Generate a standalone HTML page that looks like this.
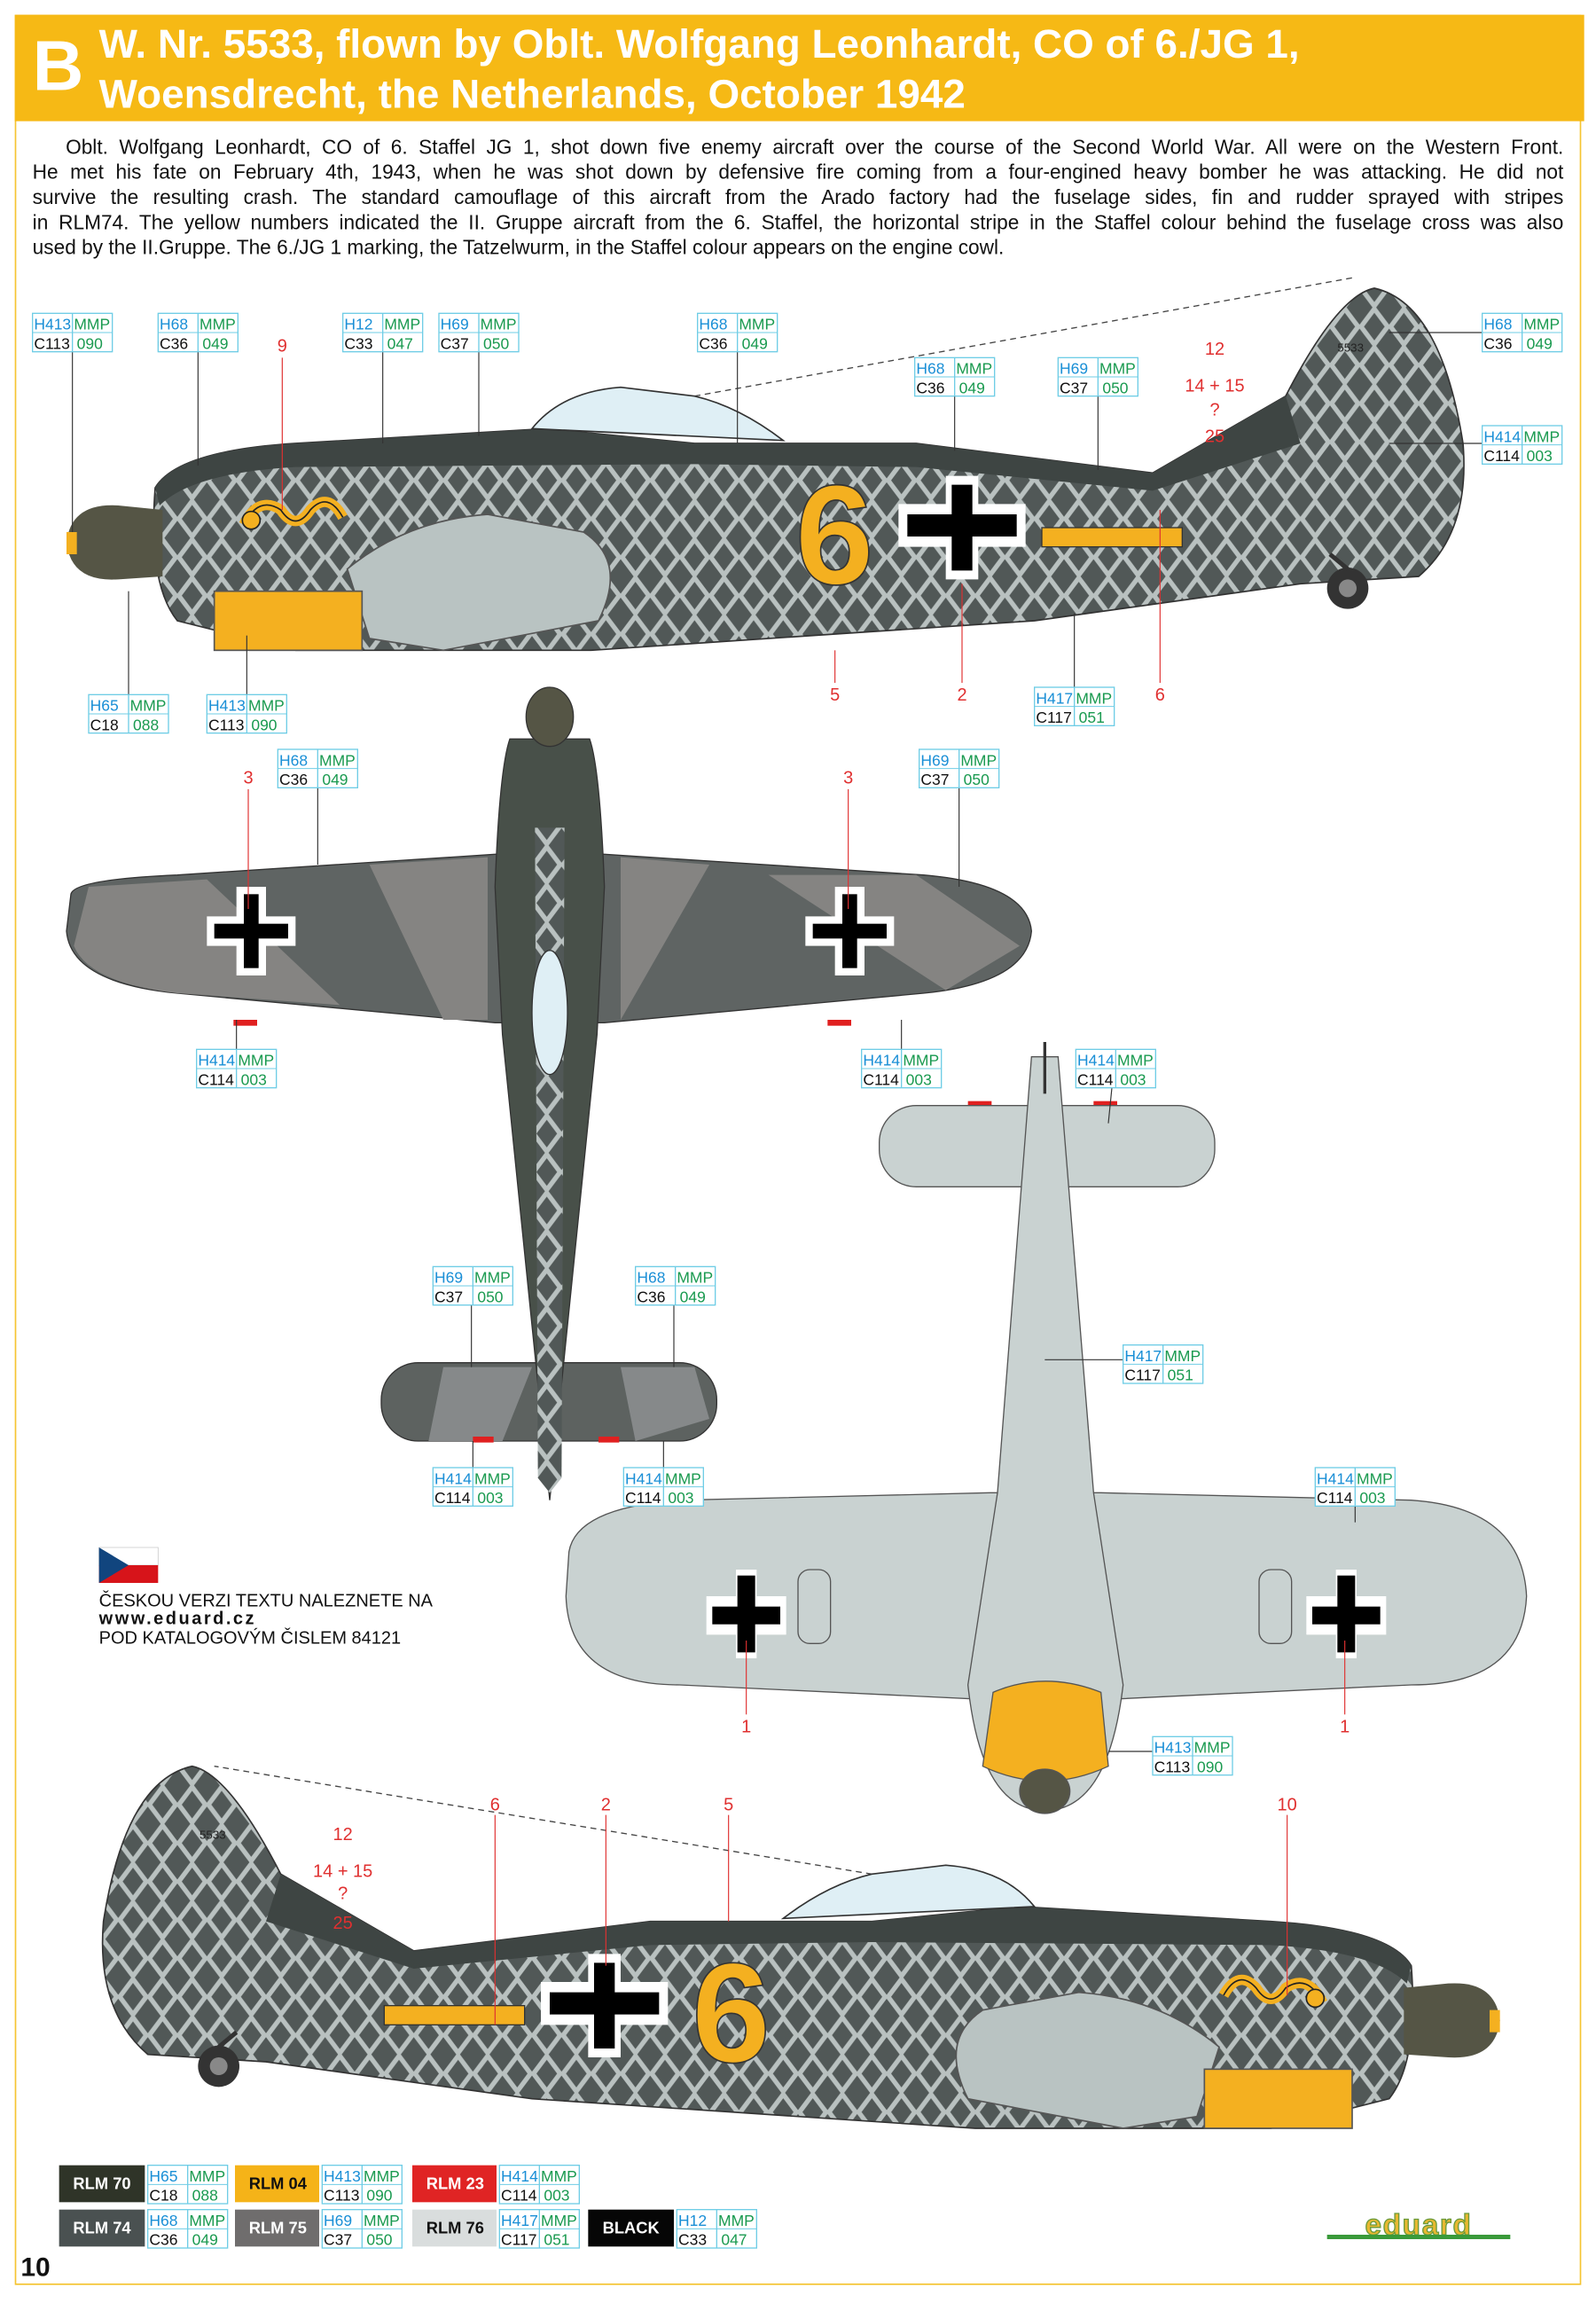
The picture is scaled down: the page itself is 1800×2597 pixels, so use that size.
<!DOCTYPE html>
<html><head><meta charset="utf-8"><style>
html,body{margin:0;padding:0;background:#fff}
#w{width:1080px;height:1558px;position:relative;transform:scale(1.66667);transform-origin:0 0;font-family:"Liberation Sans",sans-serif;overflow:hidden}
#frame{position:absolute;left:10px;top:10px;width:1060px;height:1536px;border:1.5px solid #f5c431;box-sizing:border-box}
#hd{position:absolute;left:10px;top:10px;width:1062px;height:72px;background:#f6b915}
#B{position:absolute;left:22px;top:16px;font-size:48px;font-weight:bold;color:#fff;line-height:60px}
#tt{position:absolute;left:67px;top:13px;font-size:27.5px;font-weight:bold;color:#fff;line-height:34px;white-space:nowrap}
#txt{position:absolute;left:22px;top:91px;width:1036px;font-size:13.6px;line-height:17px;color:#111}
#txt div{white-space:nowrap;text-align:justify;text-align-last:justify}
svg{position:absolute;left:0;top:0}
</style></head><body><div id="w">
<div id="frame"></div>
<div id="hd"></div>
<div id="B">B</div>
<div id="tt">W. Nr. 5533, flown by Oblt. Wolfgang Leonhardt, CO of 6./JG 1,<br>Woensdrecht, the Netherlands, October 1942</div>
<div id="txt">
<div>&nbsp;&nbsp;&nbsp;Oblt. Wolfgang Leonhardt, CO of 6. Staffel JG 1, shot down five enemy aircraft over the course of the Second World War. All were on the Western Front.</div>
<div>He met his fate on February 4th, 1943, when he was shot down by defensive fire coming from a four-engined heavy bomber he was attacking. He did not</div>
<div>survive the resulting crash. The standard camouflage of this aircraft from the Arado factory had the fuselage sides, fin and rudder sprayed with stripes</div>
<div>in RLM74. The yellow numbers indicated the II. Gruppe aircraft from the 6. Staffel, the horizontal stripe in the Staffel colour behind the fuselage cross was also</div>
<div style="text-align-last:left">used by the II.Gruppe. The 6./JG 1 marking, the Tatzelwurm, in the Staffel colour appears on the engine cowl.</div>
</div>
<svg width="1080" height="1558" viewBox="0 0 1080 1558" font-family="Liberation Sans, sans-serif">
<defs>
<pattern id="dia" width="20" height="26" patternUnits="userSpaceOnUse">
<rect width="20" height="26" fill="#515857"/>
<path d="M10,1 L19,13 L10,25 L1,13 Z" fill="none" stroke="#b9c1c0" stroke-width="3.2"/>
</pattern>
<g id="side">
<path d="M105,330 Q120,305 200,300 L370,290 L470,300 L620,300 L780,320 L870,268 Q905,200 930,195 Q975,205 990,300 Q995,360 960,390 L880,395 L700,420 L400,440 L200,440 L120,420 Q100,395 105,330 Z" fill="url(#dia)" stroke="#333" stroke-width="1"/>
<path d="M105,330 Q120,305 200,300 L370,290 L470,300 L620,300 L780,320 L870,268 L880,300 L780,332 L620,316 L470,314 L200,316 Q130,320 108,342 Z" fill="#3e4543"/>
<path d="M360,290 Q380,265 420,262 L470,268 Q500,275 530,298 Z" fill="#dfeff5" stroke="#333"/>
<path d="M235,385 Q275,352 330,348 L395,360 Q425,380 405,420 L300,440 L250,432 Z" fill="#b9c3c2" stroke="#555"/>
<rect x="145" y="400" width="100" height="40" fill="#f4b020" stroke="#555"/>
<path d="M45,367 Q48,340 80,342 L110,345 L110,390 L80,392 Q48,394 45,367 Z" fill="#555545"/>
<path d="M45,360 L52,360 L52,375 L45,375 Z" fill="#f4b020"/>
<circle cx="912" cy="398" r="14" fill="#333"/><circle cx="912" cy="398" r="6" fill="#888"/>
<line x1="912" y1="385" x2="900" y2="375" stroke="#333" stroke-width="3"/>
<path d="M608,341 L640,341 L640,322 L662,322 L662,341 L694,341 L694,370 L662,370 L662,392 L640,392 L640,370 L608,370 Z" fill="#fff"/>
<path d="M614,348 L644,348 L644,328 L658,328 L658,348 L688,348 L688,363 L658,363 L658,386 L644,386 L644,363 L614,363 Z" fill="#000"/>
<rect x="705" y="357" width="95" height="13" fill="#f4b020" stroke="#333" stroke-width=".8"/>
<path d="M165,355 Q175,335 190,345 Q200,360 210,345 Q222,332 232,350" fill="none" stroke="#f4b020" stroke-width="7"/>
<path d="M165,355 Q175,335 190,345 Q200,360 210,345 Q222,332 232,350" fill="none" stroke="#222" stroke-width="1"/>
<circle cx="170" cy="352" r="6" fill="#f4b020" stroke="#222"/>
</g>
<g id="lab"><rect x="0" y="0" width="54" height="26" fill="#fff" stroke="#6fcde6" stroke-width=".8"/><line x1="27" y1="0" x2="27" y2="26" stroke="#6fcde6" stroke-width=".8"/><line x1="0" y1="13" x2="54" y2="13" stroke="#6fcde6" stroke-width=".6"/></g>
</defs>

<line x1="470" y1="268" x2="915" y2="188" stroke="#444" stroke-dasharray="4,3" stroke-width=".8"/>
<use href="#side"/>
<text x="538" y="395" font-size="96" font-weight="bold" fill="#f4b020" stroke="#333" stroke-width="1">6</text>
<text x="905" y="238" font-size="8" fill="#222">5533</text>

<line x1="590" y1="1268" x2="145" y2="1195" stroke="#444" stroke-dasharray="4,3" stroke-width=".8"/>
<use href="#side" transform="translate(1060,1000) scale(-1,1)"/>
<text x="468" y="1395" font-size="96" font-weight="bold" fill="#f4b020" stroke="#333" stroke-width="1">6</text>
<text x="135" y="1244" font-size="8" fill="#222">5533</text>

<!-- top view -->
<g stroke="#333" stroke-width=".8">
<path d="M48,605 Q50,595 120,592 L335,578 L409,578 L625,592 Q695,598 698,630 Q695,665 625,672 L409,692 L335,692 L120,672 Q48,665 45,630 Z" fill="#5f6463"/>
<path d="M60,600 L140,595 L230,680 L120,672 Q60,665 50,640 Z M250,585 L330,580 L330,690 L300,690 Z M420,580 L480,585 L420,690 Z M520,592 L620,592 L690,640 L640,670 Z" fill="#858482" stroke="none"/>
<rect x="258" y="922" width="227" height="53" rx="25" fill="#5d6260"/>
<path d="M300,925 L360,925 L340,975 L290,975 Z M420,925 L470,925 L480,960 L430,975 Z" fill="#86898a" stroke="none"/>
<path d="M345,500 Q338,520 335,600 L340,700 L372,1015 L404,700 L409,600 Q406,520 399,500 Z" fill="#485049"/>
<path d="M362,560 L382,560 L380,1000 L372,1010 L364,1000 Z" fill="url(#dia)" stroke="none"/>
<ellipse cx="372" cy="485" rx="16" ry="20" fill="#555545"/>
<ellipse cx="372" cy="685" rx="12" ry="42" fill="#dfeff5"/>
</g>
<g fill="#fff"><path d="M140,620 L160,620 L160,600 L180,600 L180,620 L200,620 L200,640 L180,640 L180,660 L160,660 L160,640 L140,640 Z"/><path d="M545,620 L565,620 L565,600 L585,600 L585,620 L605,620 L605,640 L585,640 L585,660 L565,660 L565,640 L545,640 Z"/></g>
<g fill="#000"><rect x="145" y="625" width="50" height="10"/><rect x="165" y="605" width="10" height="50"/><rect x="550" y="625" width="50" height="10"/><rect x="570" y="605" width="10" height="50"/></g>
<g fill="#e02020"><rect x="158" y="690" width="16" height="4"/><rect x="560" y="690" width="16" height="4"/><rect x="320" y="972" width="14" height="4"/><rect x="405" y="972" width="14" height="4"/><rect x="655" y="745" width="16" height="4"/><rect x="740" y="745" width="16" height="4"/><rect x="480" y="1028" width="16" height="4"/><rect x="905" y="1028" width="16" height="4"/></g>

<!-- bottom view -->
<g stroke="#555" stroke-width=".8" fill="#c9d2d1">
<rect x="595" y="748" width="227" height="55" rx="25"/>
<path d="M385,1050 Q390,1020 460,1015 L670,1010 L745,1010 L955,1015 Q1030,1020 1033,1080 Q1030,1140 955,1140 L745,1150 L670,1150 L460,1140 Q385,1140 383,1080 Z"/>
<path d="M698,715 L716,715 L740,1010 L760,1140 Q750,1225 707,1225 Q664,1225 655,1140 L675,1010 Z"/>
<path d="M672,1145 Q707,1130 745,1145 L750,1195 Q707,1215 665,1195 Z" fill="#f4b020"/>
<ellipse cx="707" cy="1212" rx="17" ry="15" fill="#555545"/>
<rect x="540" y="1062" width="22" height="50" rx="8"/><rect x="852" y="1062" width="22" height="50" rx="8"/>
</g>
<line x1="707" y1="705" x2="707" y2="740" stroke="#333" stroke-width="2"/>
<g fill="#fff"><path d="M478,1080 L498,1080 L498,1062 L512,1062 L512,1080 L532,1080 L532,1106 L512,1106 L512,1122 L498,1122 L498,1106 L478,1106 Z"/><path d="M884,1080 L904,1080 L904,1062 L918,1062 L918,1080 L938,1080 L938,1106 L918,1106 L918,1122 L904,1122 L904,1106 L884,1106 Z"/></g>
<g fill="#000"><rect x="482" y="1087" width="46" height="12"/><rect x="499" y="1066" width="12" height="52"/><rect x="888" y="1087" width="46" height="12"/><rect x="905" y="1066" width="12" height="52"/></g>

<g stroke="#333" stroke-width=".7">
<line x1="49" y1="238" x2="49" y2="360"/><line x1="134" y1="238" x2="134" y2="315"/><line x1="259" y1="238" x2="259" y2="300"/><line x1="324" y1="238" x2="324" y2="295"/><line x1="499" y1="238" x2="499" y2="300"/><line x1="646" y1="268" x2="646" y2="305"/><line x1="743" y1="268" x2="743" y2="318"/><line x1="940" y1="225" x2="1003" y2="225"/><line x1="940" y1="300" x2="1003" y2="300"/>
<line x1="87" y1="470" x2="87" y2="400"/><line x1="167" y1="470" x2="167" y2="430"/><line x1="727" y1="465" x2="727" y2="415"/>
<line x1="215" y1="533" x2="215" y2="585"/><line x1="649" y1="533" x2="649" y2="600"/><line x1="160" y1="710" x2="160" y2="690"/><line x1="610" y1="710" x2="610" y2="690"/><line x1="755" y1="710" x2="750" y2="760"/>
<line x1="319" y1="883" x2="319" y2="925"/><line x1="456" y1="883" x2="456" y2="925"/><line x1="707" y1="920" x2="760" y2="920"/><line x1="320" y1="993" x2="320" y2="975"/><line x1="449" y1="993" x2="449" y2="975"/><line x1="917" y1="993" x2="917" y2="1030"/><line x1="750" y1="1185" x2="780" y2="1185"/>
</g>
<g stroke="#e03030" stroke-width=".7">
<line x1="191" y1="242" x2="191" y2="345"/><line x1="651" y1="462" x2="651" y2="395"/><line x1="785" y1="462" x2="785" y2="345"/><line x1="565" y1="462" x2="565" y2="440"/>
<line x1="168" y1="534" x2="168" y2="615"/><line x1="574" y1="534" x2="574" y2="615"/><line x1="505" y1="1160" x2="505" y2="1110"/><line x1="910" y1="1160" x2="910" y2="1110"/>
<line x1="335" y1="1228" x2="335" y2="1370"/><line x1="410" y1="1228" x2="410" y2="1330"/><line x1="493" y1="1228" x2="493" y2="1300"/><line x1="871" y1="1228" x2="871" y2="1350"/>
</g>
<g fill="#e03030" font-size="12" text-anchor="middle">
<text x="191" y="238">9</text><text x="565" y="474">5</text><text x="651" y="474">2</text><text x="785" y="474">6</text>
<text x="822" y="240">12</text><text x="822" y="265">14 + 15</text><text x="822" y="281">?</text><text x="822" y="299">25</text>
<text x="168" y="530">3</text><text x="574" y="530">3</text><text x="505" y="1172">1</text><text x="910" y="1172">1</text>
<text x="335" y="1225">6</text><text x="410" y="1225">2</text><text x="493" y="1225">5</text><text x="871" y="1225">10</text>
<text x="232" y="1245">12</text><text x="232" y="1270">14 + 15</text><text x="232" y="1285">?</text><text x="232" y="1305">25</text>
</g>

<g font-size="10.5">
<g transform="translate(22,212)"><use href="#lab"/><text x="1" y="11" fill="#1a8fd6">H413</text><text x="28" y="11" fill="#1a9a50">MMP</text><text x="1" y="24" fill="#111">C113</text><text x="30" y="24" fill="#1a9a50">090</text></g>
<g transform="translate(107,212)"><use href="#lab"/><text x="1" y="11" fill="#1a8fd6">H68</text><text x="28" y="11" fill="#1a9a50">MMP</text><text x="1" y="24" fill="#111">C36</text><text x="30" y="24" fill="#1a9a50">049</text></g>
<g transform="translate(232,212)"><use href="#lab"/><text x="1" y="11" fill="#1a8fd6">H12</text><text x="28" y="11" fill="#1a9a50">MMP</text><text x="1" y="24" fill="#111">C33</text><text x="30" y="24" fill="#1a9a50">047</text></g>
<g transform="translate(297,212)"><use href="#lab"/><text x="1" y="11" fill="#1a8fd6">H69</text><text x="28" y="11" fill="#1a9a50">MMP</text><text x="1" y="24" fill="#111">C37</text><text x="30" y="24" fill="#1a9a50">050</text></g>
<g transform="translate(472,212)"><use href="#lab"/><text x="1" y="11" fill="#1a8fd6">H68</text><text x="28" y="11" fill="#1a9a50">MMP</text><text x="1" y="24" fill="#111">C36</text><text x="30" y="24" fill="#1a9a50">049</text></g>
<g transform="translate(619,242)"><use href="#lab"/><text x="1" y="11" fill="#1a8fd6">H68</text><text x="28" y="11" fill="#1a9a50">MMP</text><text x="1" y="24" fill="#111">C36</text><text x="30" y="24" fill="#1a9a50">049</text></g>
<g transform="translate(716,242)"><use href="#lab"/><text x="1" y="11" fill="#1a8fd6">H69</text><text x="28" y="11" fill="#1a9a50">MMP</text><text x="1" y="24" fill="#111">C37</text><text x="30" y="24" fill="#1a9a50">050</text></g>
<g transform="translate(1003,212)"><use href="#lab"/><text x="1" y="11" fill="#1a8fd6">H68</text><text x="28" y="11" fill="#1a9a50">MMP</text><text x="1" y="24" fill="#111">C36</text><text x="30" y="24" fill="#1a9a50">049</text></g>
<g transform="translate(1003,288)"><use href="#lab"/><text x="1" y="11" fill="#1a8fd6">H414</text><text x="28" y="11" fill="#1a9a50">MMP</text><text x="1" y="24" fill="#111">C114</text><text x="30" y="24" fill="#1a9a50">003</text></g>
<g transform="translate(60,470)"><use href="#lab"/><text x="1" y="11" fill="#1a8fd6">H65</text><text x="28" y="11" fill="#1a9a50">MMP</text><text x="1" y="24" fill="#111">C18</text><text x="30" y="24" fill="#1a9a50">088</text></g>
<g transform="translate(140,470)"><use href="#lab"/><text x="1" y="11" fill="#1a8fd6">H413</text><text x="28" y="11" fill="#1a9a50">MMP</text><text x="1" y="24" fill="#111">C113</text><text x="30" y="24" fill="#1a9a50">090</text></g>
<g transform="translate(700,465)"><use href="#lab"/><text x="1" y="11" fill="#1a8fd6">H417</text><text x="28" y="11" fill="#1a9a50">MMP</text><text x="1" y="24" fill="#111">C117</text><text x="30" y="24" fill="#1a9a50">051</text></g>
<g transform="translate(188,507)"><use href="#lab"/><text x="1" y="11" fill="#1a8fd6">H68</text><text x="28" y="11" fill="#1a9a50">MMP</text><text x="1" y="24" fill="#111">C36</text><text x="30" y="24" fill="#1a9a50">049</text></g>
<g transform="translate(622,507)"><use href="#lab"/><text x="1" y="11" fill="#1a8fd6">H69</text><text x="28" y="11" fill="#1a9a50">MMP</text><text x="1" y="24" fill="#111">C37</text><text x="30" y="24" fill="#1a9a50">050</text></g>
<g transform="translate(133,710)"><use href="#lab"/><text x="1" y="11" fill="#1a8fd6">H414</text><text x="28" y="11" fill="#1a9a50">MMP</text><text x="1" y="24" fill="#111">C114</text><text x="30" y="24" fill="#1a9a50">003</text></g>
<g transform="translate(583,710)"><use href="#lab"/><text x="1" y="11" fill="#1a8fd6">H414</text><text x="28" y="11" fill="#1a9a50">MMP</text><text x="1" y="24" fill="#111">C114</text><text x="30" y="24" fill="#1a9a50">003</text></g>
<g transform="translate(728,710)"><use href="#lab"/><text x="1" y="11" fill="#1a8fd6">H414</text><text x="28" y="11" fill="#1a9a50">MMP</text><text x="1" y="24" fill="#111">C114</text><text x="30" y="24" fill="#1a9a50">003</text></g>
<g transform="translate(293,857)"><use href="#lab"/><text x="1" y="11" fill="#1a8fd6">H69</text><text x="28" y="11" fill="#1a9a50">MMP</text><text x="1" y="24" fill="#111">C37</text><text x="30" y="24" fill="#1a9a50">050</text></g>
<g transform="translate(430,857)"><use href="#lab"/><text x="1" y="11" fill="#1a8fd6">H68</text><text x="28" y="11" fill="#1a9a50">MMP</text><text x="1" y="24" fill="#111">C36</text><text x="30" y="24" fill="#1a9a50">049</text></g>
<g transform="translate(760,910)"><use href="#lab"/><text x="1" y="11" fill="#1a8fd6">H417</text><text x="28" y="11" fill="#1a9a50">MMP</text><text x="1" y="24" fill="#111">C117</text><text x="30" y="24" fill="#1a9a50">051</text></g>
<g transform="translate(293,993)"><use href="#lab"/><text x="1" y="11" fill="#1a8fd6">H414</text><text x="28" y="11" fill="#1a9a50">MMP</text><text x="1" y="24" fill="#111">C114</text><text x="30" y="24" fill="#1a9a50">003</text></g>
<g transform="translate(422,993)"><use href="#lab"/><text x="1" y="11" fill="#1a8fd6">H414</text><text x="28" y="11" fill="#1a9a50">MMP</text><text x="1" y="24" fill="#111">C114</text><text x="30" y="24" fill="#1a9a50">003</text></g>
<g transform="translate(890,993)"><use href="#lab"/><text x="1" y="11" fill="#1a8fd6">H414</text><text x="28" y="11" fill="#1a9a50">MMP</text><text x="1" y="24" fill="#111">C114</text><text x="30" y="24" fill="#1a9a50">003</text></g>
<g transform="translate(780,1175)"><use href="#lab"/><text x="1" y="11" fill="#1a8fd6">H413</text><text x="28" y="11" fill="#1a9a50">MMP</text><text x="1" y="24" fill="#111">C113</text><text x="30" y="24" fill="#1a9a50">090</text></g>
</g>

<rect x="67" y="1047" width="40" height="12" fill="#fff" stroke="#ccc" stroke-width=".5"/><rect x="67" y="1059" width="40" height="12" fill="#d7141a"/><path d="M67,1047 L87,1059 L67,1071 Z" fill="#11457e"/>
<g font-size="12" fill="#111"><text x="67" y="1087">ČESKOU VERZI TEXTU NALEZNETE NA</text><text x="67" y="1099" font-weight="bold" letter-spacing="1.5">www.eduard.cz</text><text x="67" y="1112">POD KATALOGOVÝM ČISLEM 84121</text></g>

<g font-size="11" font-weight="bold" text-anchor="middle">
<rect x="40" y="1465" width="58" height="25" fill="#2f3428"/><text x="69" y="1481" fill="#fff">RLM 70</text>
<rect x="159" y="1465" width="57" height="25" fill="#f5b318"/><text x="188" y="1481" fill="#111">RLM 04</text>
<rect x="279" y="1465" width="57" height="25" fill="#e02424"/><text x="308" y="1481" fill="#fff">RLM 23</text>
<rect x="40" y="1495" width="58" height="25" fill="#4a5151"/><text x="69" y="1511" fill="#fff">RLM 74</text>
<rect x="159" y="1495" width="57" height="25" fill="#6f6d6d"/><text x="188" y="1511" fill="#fff">RLM 75</text>
<rect x="279" y="1495" width="57" height="25" fill="#d9dddd"/><text x="308" y="1511" fill="#111">RLM 76</text>
<rect x="398" y="1495" width="58" height="25" fill="#060606"/><text x="427" y="1511" fill="#fff">BLACK</text>
</g>
<g font-size="10.5">
<g transform="translate(100,1465)"><use href="#lab"/><text x="1" y="11" fill="#1a8fd6">H65</text><text x="28" y="11" fill="#1a9a50">MMP</text><text x="1" y="24" fill="#111">C18</text><text x="30" y="24" fill="#1a9a50">088</text></g>
<g transform="translate(218,1465)"><use href="#lab"/><text x="1" y="11" fill="#1a8fd6">H413</text><text x="28" y="11" fill="#1a9a50">MMP</text><text x="1" y="24" fill="#111">C113</text><text x="30" y="24" fill="#1a9a50">090</text></g>
<g transform="translate(338,1465)"><use href="#lab"/><text x="1" y="11" fill="#1a8fd6">H414</text><text x="28" y="11" fill="#1a9a50">MMP</text><text x="1" y="24" fill="#111">C114</text><text x="30" y="24" fill="#1a9a50">003</text></g>
<g transform="translate(100,1495)"><use href="#lab"/><text x="1" y="11" fill="#1a8fd6">H68</text><text x="28" y="11" fill="#1a9a50">MMP</text><text x="1" y="24" fill="#111">C36</text><text x="30" y="24" fill="#1a9a50">049</text></g>
<g transform="translate(218,1495)"><use href="#lab"/><text x="1" y="11" fill="#1a8fd6">H69</text><text x="28" y="11" fill="#1a9a50">MMP</text><text x="1" y="24" fill="#111">C37</text><text x="30" y="24" fill="#1a9a50">050</text></g>
<g transform="translate(338,1495)"><use href="#lab"/><text x="1" y="11" fill="#1a8fd6">H417</text><text x="28" y="11" fill="#1a9a50">MMP</text><text x="1" y="24" fill="#111">C117</text><text x="30" y="24" fill="#1a9a50">051</text></g>
<g transform="translate(458,1495)"><use href="#lab"/><text x="1" y="11" fill="#1a8fd6">H12</text><text x="28" y="11" fill="#1a9a50">MMP</text><text x="1" y="24" fill="#111">C33</text><text x="30" y="24" fill="#1a9a50">047</text></g>
</g>
<text x="14" y="1540" font-size="18" font-weight="bold" fill="#111">10</text>
<text x="960" y="1512" font-size="20" font-weight="bold" fill="#e8b830" stroke="#6a9a3a" stroke-width=".8" text-anchor="middle" letter-spacing="1">eduard</text>
<rect x="898" y="1512" width="124" height="3" fill="#3a9a3a"/>
</svg>
</div></body></html>
